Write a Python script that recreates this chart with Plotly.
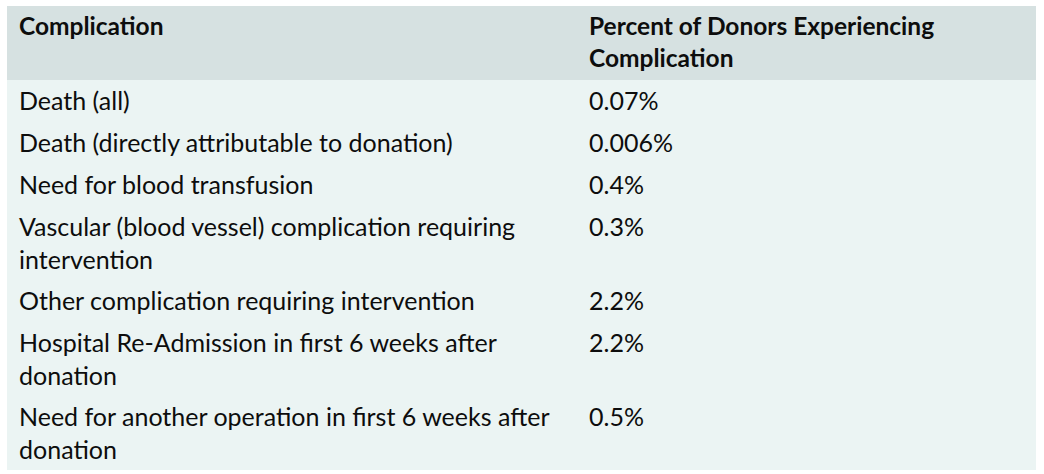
import plotly.graph_objects as go

header_labels = ["Complication", "Percent of Donors Experiencing<br>Complication"]
complications = [
    "Death (all)",
    "Death (directly attributable to donation)",
    "Need for blood transfusion",
    "Vascular (blood vessel) complication requiring<br>intervention",
    "Other complication requiring intervention",
    "Hospital Re-Admission in first 6 weeks after<br>donation",
    "Need for another operation in first 6 weeks after<br>donation",
]
percents = ["0.07%", "0.006%", "0.4%", "0.3%", "2.2%", "2.2%", "0.5%"]

W, H = 1044, 474
FONT = "Lato"
TABLE_LEFT, TABLE_RIGHT, TABLE_TOP = 7, 1036, 6
COL_TEXT_X = [18, 588]
BASE_ROW_H, LINE_H = 42, 32
HEADER_BG, BODY_BG = "#D6E1E1", "#EBF4F3"
TEXT_COLOR = "#0d0d0d"


def n_lines(s):
    return s.count("<br>") + 1


rows = [(header_labels, True)] + [([c, p], False) for c, p in zip(complications, percents)]

shapes, annotations = [], []
y = TABLE_TOP
for cells, is_header in rows:
    h = BASE_ROW_H + LINE_H * (max(n_lines(t) for t in cells) - 1)
    shapes.append(dict(
        type="rect", xref="x", yref="y", layer="below",
        x0=TABLE_LEFT, x1=TABLE_RIGHT, y0=y, y1=y + h,
        fillcolor=HEADER_BG if is_header else BODY_BG, line=dict(width=0),
    ))
    for cx, t in zip(COL_TEXT_X, cells):
        annotations.append(dict(
            xref="x", yref="y", x=cx, y=y + 4, xanchor="left", yanchor="top",
            align="left", showarrow=False, borderpad=0,
            text=f"<b>{t}</b>" if is_header else t,
            font=dict(family=FONT, size=24.5 if is_header else 25, color=TEXT_COLOR),
        ))
    y += h

fig = go.Figure()
fig.add_trace(go.Scatter(x=[0, W], y=[0, H], mode="markers",
                         marker=dict(opacity=0), hoverinfo="skip", showlegend=False))
fig.update_layout(
    width=W, height=H,
    margin=dict(l=0, r=0, t=0, b=0),
    paper_bgcolor="white", plot_bgcolor="white",
    xaxis=dict(range=[0, W], visible=False, fixedrange=True),
    yaxis=dict(range=[H, 0], visible=False, fixedrange=True),
    shapes=shapes, annotations=annotations,
)
fig.write_html(
    "out.html",
    config={"displayModeBar": False},
    post_script="document.body.style.margin='0';document.body.style.overflow='hidden';",
)
